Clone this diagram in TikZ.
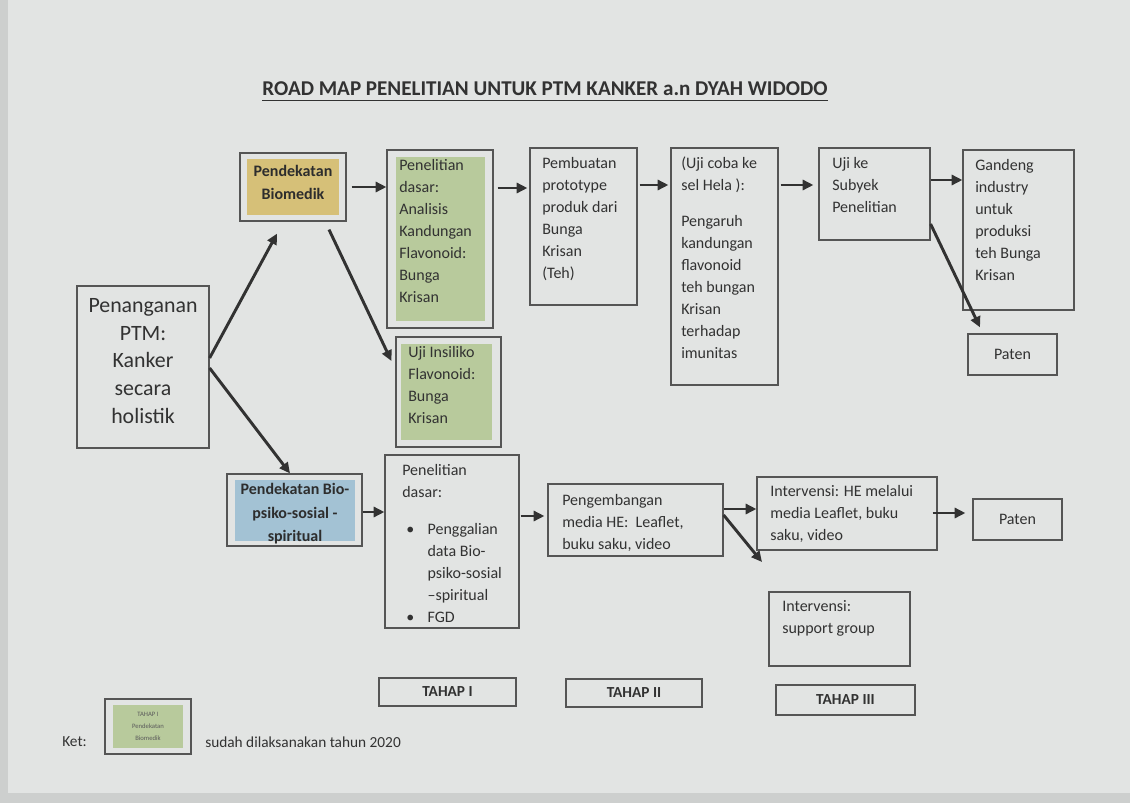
\documentclass[tikz,border=0pt]{standalone}
\usepackage{fontspec}
\setmainfont{Carlito}
\usetikzlibrary{arrows.meta,calc,fit}
\definecolor{paper}{RGB}{226,228,227}
\definecolor{paperdark}{RGB}{205,207,206}
\definecolor{ink}{RGB}{50,50,50}
\definecolor{frame}{RGB}{85,85,85}
\definecolor{gfill}{RGB}{184,202,156}
\definecolor{yfill}{RGB}{214,192,120}
\definecolor{bfill}{RGB}{163,194,212}
\tikzset{
  frm/.style={draw=frame, line width=0.9pt, inner sep=0pt},
  fil/.style={inner sep=0pt, draw=none},
  txt/.style={inner sep=0pt, anchor=north west, align=left, text=ink, font=\fontsize{12}{16.5}\selectfont},
  ctxt/.style={inner sep=0pt, align=center, text=ink},
  arr/.style={draw=ink, line width=2.2pt, -{Triangle[length=8pt,width=7.5pt]}},
}
\begin{document}
\begin{tikzpicture}[x=0.75pt,y=-0.75pt]
\useasboundingbox (0,0) rectangle (1130,803);
\fill[paper] (0,0) rectangle (1130,803);
\fill[paperdark] (0,0) rectangle (8,803);
\fill[paperdark] (0,793) rectangle (1130,803);

% title
\node[ctxt, font=\fontsize{15.8}{20}\selectfont\bfseries] (title) at (545,89) {ROAD MAP PENELITIAN UNTUK PTM KANKER a.n DYAH WIDODO};
\draw[ink, line width=1pt] ($(title.base west)+(0,5)$) -- ($(title.base east)+(0,5)$);

% fills
\node[fil, fill=yfill, fit={(247,159) (339,215)}] (biof) {};
\node[fil, fill=gfill, fit={(396,157) (485,321)}] (pd1f) {};
\node[fil, fill=gfill, fit={(401,344) (492,440)}] (insf) {};
\node[fil, fill=bfill, fit={(235,480) (355,541)}] (bpsf) {};
\node[fil, fill=gfill, fit={(113,705) (183,748)}] (legf) {};

% frames
\node[frm, fit={(77,286) (209,448)}] (pen) {};
\node[frm, fit={(240,153) (346,221)}] (bio) {};
\node[frm, fit={(387,150) (493,328)}] (pd1) {};
\node[frm, fit={(396,337) (501,447)}] (ins) {};
\node[frm, fit={(530,148) (637,305)}] (pmb) {};
\node[frm, fit={(671,148) (778,385)}] (ujc) {};
\node[frm, fit={(819,148) (930,240)}] (ujk) {};
\node[frm, fit={(963,150) (1074,310)}] (gnd) {};
\node[frm, fit={(968,334) (1057,375)}] (pt1) {};
\node[frm, fit={(227,474) (362,546)}] (bps) {};
\node[frm, fit={(385,455) (519,628)}] (pd2) {};
\node[frm, fit={(548,484) (723,556)}] (peng) {};
\node[frm, fit={(757,477) (937,550)}] (ihe) {};
\node[frm, fit={(973,499) (1062,540)}] (pt2) {};
\node[frm, fit={(769,592) (910,666)}] (sg) {};
\node[frm, fit={(379,678) (516,706)}] (t1) {};
\node[frm, fit={(566,679) (702,707)}] (t2) {};
\node[frm, fit={(776,685) (915,715)}] (t3) {};
\node[frm, fit={(105,699) (191,754)}] (leg) {};

% texts
\node[ctxt, font=\fontsize{16.4}{20.8}\selectfont] (pen-t) at (143,361) {Penanganan\\PTM:\\Kanker\\secara\\holistik};
\node[ctxt, font=\fontsize{12}{17.2}\selectfont\bfseries, text=ink!90!black] (bio-t) at (293,182) {Pendekatan\\Biomedik};
\node[txt] (pd1-t) at (399,159) {Penelitian\\dasar:\\Analisis\\Kandungan\\Flavonoid:\\Bunga\\Krisan};
\node[txt] (ins-t) at (408,346) {Uji Insiliko\\Flavonoid:\\Bunga\\Krisan};
\node[txt] (pmb-t) at (542,157) {Pembuatan\\prototype\\produk dari\\Bunga\\Krisan\\(Teh)};
\node[txt] (ujc-t) at (681,157) {(Uji coba ke\\sel Hela ):\\[10pt]Pengaruh\\kandungan\\flavonoid\\teh bungan\\Krisan\\terhadap\\imunitas};
\node[txt] (ujk-t) at (832,157) {Uji ke\\Subyek\\Penelitian};
\node[txt] (gnd-t) at (975,159) {Gandeng\\industry\\untuk\\produksi\\teh Bunga\\Krisan};
\node[ctxt, font=\fontsize{12}{16.5}\selectfont] (pt1-t) at (pt1.center) {Paten};
\node[ctxt, font=\fontsize{12}{17.6}\selectfont\bfseries, text=ink!90!black] (bps-t) at (295,514) {Pendekatan Bio-\\psiko-sosial -\\spiritual};
\node[txt] (pd2-t) at (402,464) {Penelitian\\dasar:};
\node[txt, font=\fontsize{12}{16.5}\selectfont] (pd2-b) at (406,519) {%
  \begin{tabular}{@{}l@{\hspace{10pt}}l@{}}
  \textbullet & Penggalian\\
   & data Bio-\\
   & psiko-sosial\\
   & --spiritual\\
  \textbullet & FGD
  \end{tabular}};
\node[txt] (peng-t) at (562,494) {Pengembangan\\media HE:\ \ Leaflet,\\buku saku, video};
\node[txt] (ihe-t) at (770,485) {Intervensi: HE melalui\\media Leaflet, buku\\saku, video};
\node[ctxt, font=\fontsize{12}{16.5}\selectfont] (pt2-t) at (pt2.center) {Paten};
\node[txt] (sg-t) at (782,600) {Intervensi:\\support group};
\node[ctxt, font=\fontsize{11.5}{14}\selectfont\bfseries] (t1-t) at (t1.center) {TAHAP I};
\node[ctxt, font=\fontsize{11.5}{14}\selectfont\bfseries] (t2-t) at (t2.center) {TAHAP II};
\node[ctxt, font=\fontsize{11.5}{14}\selectfont\bfseries] (t3-t) at (t3.center) {TAHAP III};
\node[ctxt, font=\fontsize{5}{9}\selectfont, text=ink!80] (leg-t) at (legf.center) {TAHAP I\\Pendekatan\\Biomedik};
\node[inner sep=0pt, anchor=west, text=ink, font=\fontsize{11.5}{14}\selectfont] (ket) at (62,742) {Ket:};
\node[inner sep=0pt, anchor=west, text=ink, font=\fontsize{11.5}{14}\selectfont] (note) at (205,742) {sudah dilaksanakan tahun 2020};

% connectors
\draw[arr] (pen.east |- 0,358) -- ($(bio.south -| 277,0)+(0,12)$);
\draw[arr] (pen.east |- 0,368) -- (bps.north -| 290,0);
\draw[arr] ($(bio.east |- 0,187)+(5,0)$) -- (pd1.west |- 0,187);
\draw[arr] ($(bio.south -| 329,0)+(0,8)$) -- ($(ins.west |- 0,361)+(-4,0)$);
\draw[arr] ($(pd1.east |- 0,188)+(4,0)$) -- ($(pmb.west |- 0,188)+(-2,0)$);
\draw[arr] ($(pmb.east |- 0,185)+(2,0)$) -- ($(ujc.west |- 0,185)+(-2,0)$);
\draw[arr] ($(ujc.east |- 0,185)+(2,0)$) -- ($(ujk.west |- 0,185)+(-5,0)$);
\draw[arr] (ujk.east |- 0,180) -- (gnd.west |- 0,180);
\draw[arr] (ujk.east |- 0,224) -- ($(pt1.north -| 980,0)+(0,-6)$);
\draw[arr] (bps.east |- 0,512) -- (pd2.west |- 0,512);
\draw[arr] ($(pd2.east |- 0,516)+(1,0)$) -- ($(peng.west |- 0,516)+(-3,0)$);
\draw[arr] (peng.east |- 0,509) -- (ihe.west |- 0,509);
\coordinate (sgend) at (762,562);
\draw[arr] (peng.east |- 0,515) -- (sgend);
\draw[arr] ($(ihe.east |- 0,513)+(-5,0)$) -- ($(pt2.west |- 0,513)+(-7,0)$);
\end{tikzpicture}
\end{document}
